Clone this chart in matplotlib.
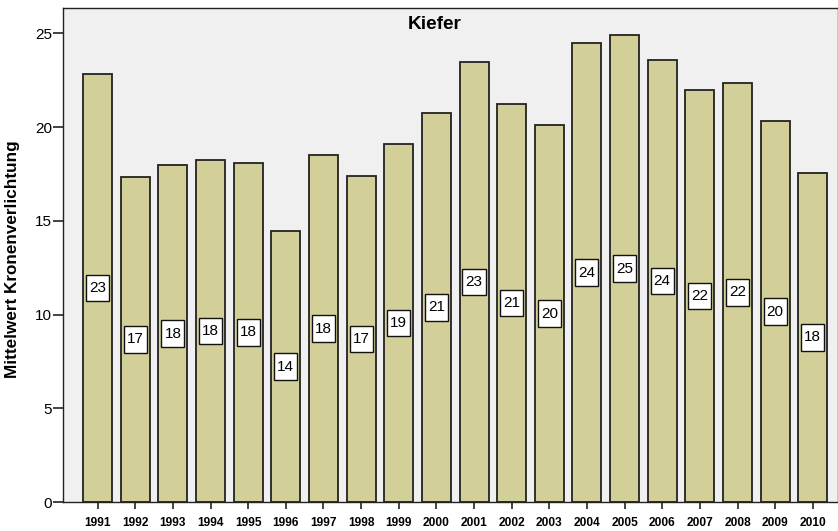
import matplotlib
matplotlib.use("Agg")
import matplotlib.pyplot as plt
from matplotlib.path import Path
import numpy as np

years = ["1991", "1992", "1993", "1994", "1995", "1996", "1997", "1998", "1999", "2000",
         "2001", "2002", "2003", "2004", "2005", "2006", "2007", "2008", "2009", "2010"]
values = [22.83, 17.35, 17.96, 18.22, 18.10, 14.45, 18.50, 17.39, 19.09, 20.75,
          23.47, 21.23, 20.10, 24.48, 24.90, 23.57, 21.99, 22.35, 20.32, 17.55]
title = "Kiefer"
ylabel = "Mittelwert Kronenverlichtung"
yticks = [0, 5, 10, 15, 20, 25]

plt.rcParams['font.family'] = ['Liberation Sans', 'DejaVu Sans']


def label_box(x0, y0, width, height, mutation_size):
    px = 0.2 * mutation_size
    py = 0.41 * mutation_size
    x0, y0 = x0 - px, y0 - py
    x1, y1 = x0 + width + 2 * px, y0 + height + 2 * py
    return Path([(x0, y0), (x1, y0), (x1, y1), (x0, y1), (x0, y0)], closed=True)


fig = plt.figure(figsize=(8.38, 5.31), dpi=100)
ax = fig.add_axes([63/838, 29/531, 775/838, 494/531])
ax.set_facecolor("#F0F0F0")

x = np.arange(len(years))
ax.bar(x, values, width=0.77, color="#D3CF98", edgecolor="#222222", linewidth=1.3, zorder=2)

for xi, v in zip(x, values):
    ax.text(xi, v / 2, f"{round(v):d}", ha="center", va="center", fontsize=11, zorder=3,
            bbox=dict(boxstyle=label_box, facecolor="white", edgecolor="#111111", linewidth=1.0))

ax.set_xlim(-0.92, 19.67)
ax.set_ylim(0, 26.35)
ax.set_xticks(x)
ax.set_xticklabels(years, fontsize=8.6, fontweight="bold")
ax.set_yticks(yticks)
ax.set_yticklabels([str(t) for t in yticks], fontsize=11)
ax.tick_params(axis="x", length=5, width=1.2, pad=6, color="#222222")
ax.tick_params(axis="y", length=7, width=1.2, pad=1, color="#222222")

for s in ["left", "bottom", "top", "right"]:
    ax.spines[s].set_color("#222222")
    ax.spines[s].set_linewidth(1.0)

ax.set_ylabel(ylabel, fontsize=12.3, fontweight="bold")
ax.yaxis.set_label_coords(-0.0555, 0.492)
ax.text(0.479, 0.9656, title, transform=ax.transAxes, ha="center", va="center",
        fontsize=13.7, fontweight="bold")

fig.savefig("out.png", dpi=100)
